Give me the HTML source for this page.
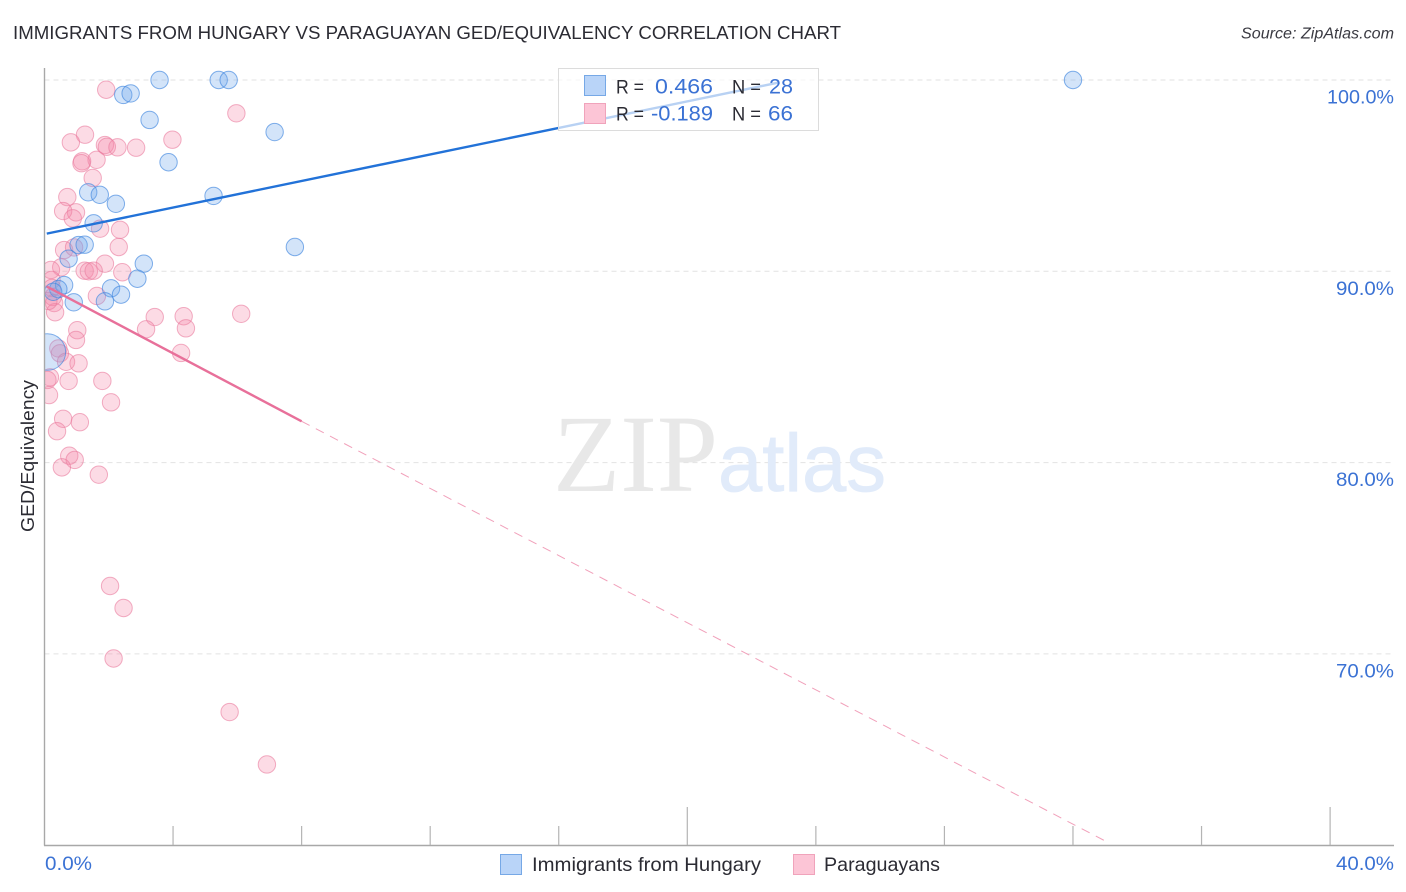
<!DOCTYPE html>
<html lang="en">
<head>
<meta charset="utf-8">
<title>Immigrants from Hungary vs Paraguayan GED/Equivalency Correlation Chart</title>
<style>
html,body{margin:0;padding:0;background:#fff;width:1406px;height:892px;overflow:hidden}
svg{display:block}
text{font-family:"Liberation Sans",sans-serif}
</style>
</head>
<body>
<svg id="chart" xmlns="http://www.w3.org/2000/svg" width="1406" height="892" viewBox="0 0 1406 892">
  <defs><clipPath id="plot-clip"><rect x="45" y="60" width="1349" height="785"/></clipPath></defs>
  <rect width="1406" height="892" fill="#fff"/>
  <text x="13" y="39" font-size="18.5" fill="#2b2b33" textLength="828" lengthAdjust="spacingAndGlyphs">IMMIGRANTS FROM HUNGARY VS PARAGUAYAN GED/EQUIVALENCY CORRELATION CHART</text>
  <text x="1241" y="38.5" font-size="15.5" font-style="italic" fill="#3a3a42" textLength="153" lengthAdjust="spacingAndGlyphs">Source: ZipAtlas.com</text>
  <g id="grid"></g>
  <g>
    <text x="553" y="491" font-size="110" fill="#e8e8e8" style="font-family:'Liberation Serif',serif">ZIP</text>
    <text x="718" y="491" font-size="82" fill="#e1ebfa" stroke="#e1ebfa" stroke-width="0.8" textLength="168" lengthAdjust="spacingAndGlyphs">atlas</text>
  </g>
  <g id="pts" clip-path="url(#plot-clip)"></g>
  <g id="trends"></g>
  <g id="axes"></g>
  <text transform="translate(34,532) rotate(-90)" font-size="18.5" fill="#2b2b33" textLength="152" lengthAdjust="spacingAndGlyphs">GED/Equivalency</text>

  <g>
    <rect x="558.5" y="68.5" width="260" height="62" fill="#fff" fill-opacity="0.68" stroke="#dcdcdc" stroke-width="1"/>
    <rect x="584.5" y="75.5" width="21" height="20" fill="#b9d4f8" stroke="#76a8e6"/>
    <rect x="584.5" y="103.5" width="21" height="20" fill="#fcc5d6" stroke="#f0a3bb"/>
    <text x="616" y="93.5" font-size="19.5" fill="#2b2b33" textLength="28" lengthAdjust="spacingAndGlyphs">R =</text>
    <text x="655" y="93.5" font-size="21" fill="#3b72d4" textLength="58" lengthAdjust="spacingAndGlyphs">0.466</text>
    <text x="732" y="93.5" font-size="19.5" fill="#2b2b33" textLength="29" lengthAdjust="spacingAndGlyphs">N =</text>
    <text x="769" y="93.5" font-size="21" fill="#3b72d4" textLength="24" lengthAdjust="spacingAndGlyphs">28</text>
    <text x="616" y="120.5" font-size="19.5" fill="#2b2b33" textLength="28" lengthAdjust="spacingAndGlyphs">R =</text>
    <text x="651" y="120.5" font-size="21" fill="#3b72d4" textLength="62" lengthAdjust="spacingAndGlyphs">-0.189</text>
    <text x="732" y="120.5" font-size="19.5" fill="#2b2b33" textLength="29" lengthAdjust="spacingAndGlyphs">N =</text>
    <text x="768" y="120.5" font-size="21" fill="#3b72d4" textLength="25" lengthAdjust="spacingAndGlyphs">66</text>
  </g>

  <g>
    <rect x="500.5" y="854.5" width="21" height="20" fill="#b9d4f8" stroke="#76a8e6"/>
    <text x="532" y="871" font-size="19.5" fill="#2b2b33" textLength="229" lengthAdjust="spacingAndGlyphs">Immigrants from Hungary</text>
    <rect x="793.5" y="854.5" width="21" height="20" fill="#fcc5d6" stroke="#f0a3bb"/>
    <text x="824" y="871" font-size="19.5" fill="#2b2b33" textLength="116" lengthAdjust="spacingAndGlyphs">Paraguayans</text>
  </g>
</svg>
<script>
var hungaryX = [3.58,5.42,5.73,32.0,2.45,2.68,3.27,7.16,3.86,1.36,1.72,2.22,5.26,1.53,7.79,1.06,1.25,0.75,3.09,2.89,0.61,2.07,2.38,1.88,0.91,0.43,0.27,0.09];
var hungaryY = [100,100,100,100,99.22,99.30,97.91,97.28,95.70,94.13,94.00,93.53,93.94,92.51,91.27,91.37,91.39,90.66,90.40,89.61,89.28,89.11,88.78,88.43,88.38,89.07,88.93,85.78];
var hungaryWeight = [1,1,1,1,1,1,1,1,1,1,1,1,1,1,1,1,1,1,1,1,1,1,1,1,1,1,1,2.1];
var paraguayX = [1.92,5.97,1.26,0.82,3.98,1.88,1.94,2.27,2.85,1.62,1.17,1.15,1.50,0.71,0.98,0.58,0.88,1.73,2.35,2.31,0.61,0.92,0.52,1.88,1.25,1.38,1.53,2.42,0.20,0.22,1.63,0.23,0.26,0.30,0.33,1.02,0.98,3.43,4.33,6.12,3.16,4.40,0.43,0.48,0.67,1.06,4.25,0.17,0.09,0.75,1.80,0.14,2.07,0.58,1.10,0.39,0.77,0.94,0.54,1.69,2.04,2.46,2.15,5.76,6.92,0.12];
var paraguayY = [99.49,98.26,97.14,96.74,96.88,96.60,96.51,96.48,96.46,95.83,95.75,95.65,94.88,93.88,93.08,93.15,92.77,92.23,92.17,91.27,91.11,91.25,90.21,90.40,90.03,90.00,90.03,89.95,90.07,89.55,88.71,89.13,88.66,88.34,87.86,86.92,86.41,87.61,87.65,87.78,86.97,87.02,85.97,85.71,85.27,85.19,85.73,84.46,84.32,84.27,84.27,83.53,83.15,82.29,82.11,81.64,80.36,80.14,79.75,79.37,73.55,72.40,69.76,66.96,64.22,88.45];
var hungaryTrendX = [0.07,22.82];
var hungaryTrendY = [91.97,99.86];
var paraguayTrendX = [0.07,8.0];
var paraguayTrendY = [89.2,82.16];
var paraguayDashX = [8.0,33.06];
var paraguayDashY = [82.16,60.17];
var yTickValues = [100,90,80,70];
var yTickLabels = ["100.0%","90.0%","80.0%","70.0%"];
var xTickValues = [4,8,12,16,20,24,28,32,36,40];
var xMajorTicks = [20,40];
var xEndLabels = ["0.0%","40.0%"];

var NS = "http://www.w3.org/2000/svg";
function sx(v){ return 44.5 + v * 32.14; }
function sy(v){ return 80 + (100 - v) * 19.13; }
function mk(tag, parent, attrs){
  var el = document.createElementNS(NS, tag);
  for (var k in attrs) el.setAttribute(k, attrs[k]);
  parent.appendChild(el);
  return el;
}
var grid = document.getElementById("grid");
var pts = document.getElementById("pts");
var trends = document.getElementById("trends");
var axes = document.getElementById("axes");

yTickValues.forEach(function(v, i){
  var g = mk("line", grid, {x1:44.5, x2:1394, y1:sy(v), y2:sy(v), stroke:"#e2e2e2", "stroke-width":1, "stroke-dasharray":"5 4"});
  
  
  var w = yTickLabels[i].length * 9.67 + 9 - (yTickLabels[i].length === 6 ? 0 : 0);
  var labelWidth = yTickLabels[i].length === 6 ? 67 : 58;
  var t = mk("text", axes, {x:1394 - labelWidth, y:sy(v) + 23.5, "font-size":19.5, fill:"#3b72d4", textLength:labelWidth, lengthAdjust:"spacingAndGlyphs"});
  t.textContent = yTickLabels[i];
  
  
});

paraguayX.forEach(function(v, i){
  var c = mk("circle", pts, {cx:sx(v), cy:sy(paraguayY[i]), r:8.7, fill:"#f588aa", "fill-opacity":0.3, stroke:"#e9799d", "stroke-opacity":0.6, "stroke-width":1});
  
  
});
hungaryX.forEach(function(v, i){
  var c = mk("circle", pts, {cx:sx(v), cy:sy(hungaryY[i]), r:8.7 * hungaryWeight[i], fill:"#6ea6ec", "fill-opacity":0.3, stroke:"#3f85de", "stroke-opacity":0.65, "stroke-width":1});
  
  
});

var l1 = mk("line", trends, {x1:sx(hungaryTrendX[0]), y1:sy(hungaryTrendY[0]), x2:sx(hungaryTrendX[1]), y2:sy(hungaryTrendY[1]), stroke:"#2272d8", "stroke-width":2.4});


var l2 = mk("line", trends, {x1:sx(paraguayTrendX[0]), y1:sy(paraguayTrendY[0]), x2:sx(paraguayTrendX[1]), y2:sy(paraguayTrendY[1]), stroke:"#e8709a", "stroke-width":2.4});


var l3 = mk("line", trends, {x1:sx(paraguayDashX[0]), y1:sy(paraguayDashY[0]), x2:sx(paraguayDashX[1]), y2:sy(paraguayDashY[1]), stroke:"#ee8fae", "stroke-opacity":0.85, "stroke-width":1, "stroke-dasharray":"9 7"});



var ax1 = mk("line", axes, {x1:44.5, x2:44.5, y1:68, y2:845.5, stroke:"#a8a8a8", "stroke-width":1.4});


var ax2 = mk("line", axes, {x1:44, x2:1394, y1:845.5, y2:845.5, stroke:"#a8a8a8", "stroke-width":1.4});


xTickValues.forEach(function(v){
  var top = xMajorTicks.indexOf(v) >= 0 ? 807 : 826;
  var t = mk("line", axes, {x1:sx(v), x2:sx(v), y1:top, y2:845, stroke:"#b4b4b4", "stroke-width":1.2});
  
  
});
var xl0 = mk("text", axes, {x:45, y:870, "font-size":19.5, fill:"#3b72d4", textLength:47, lengthAdjust:"spacingAndGlyphs"});
xl0.textContent = xEndLabels[0];


var xl1 = mk("text", axes, {x:1336, y:870, "font-size":19.5, fill:"#3b72d4", textLength:58, lengthAdjust:"spacingAndGlyphs"});
xl1.textContent = xEndLabels[1];


</script>
</body>
</html>
